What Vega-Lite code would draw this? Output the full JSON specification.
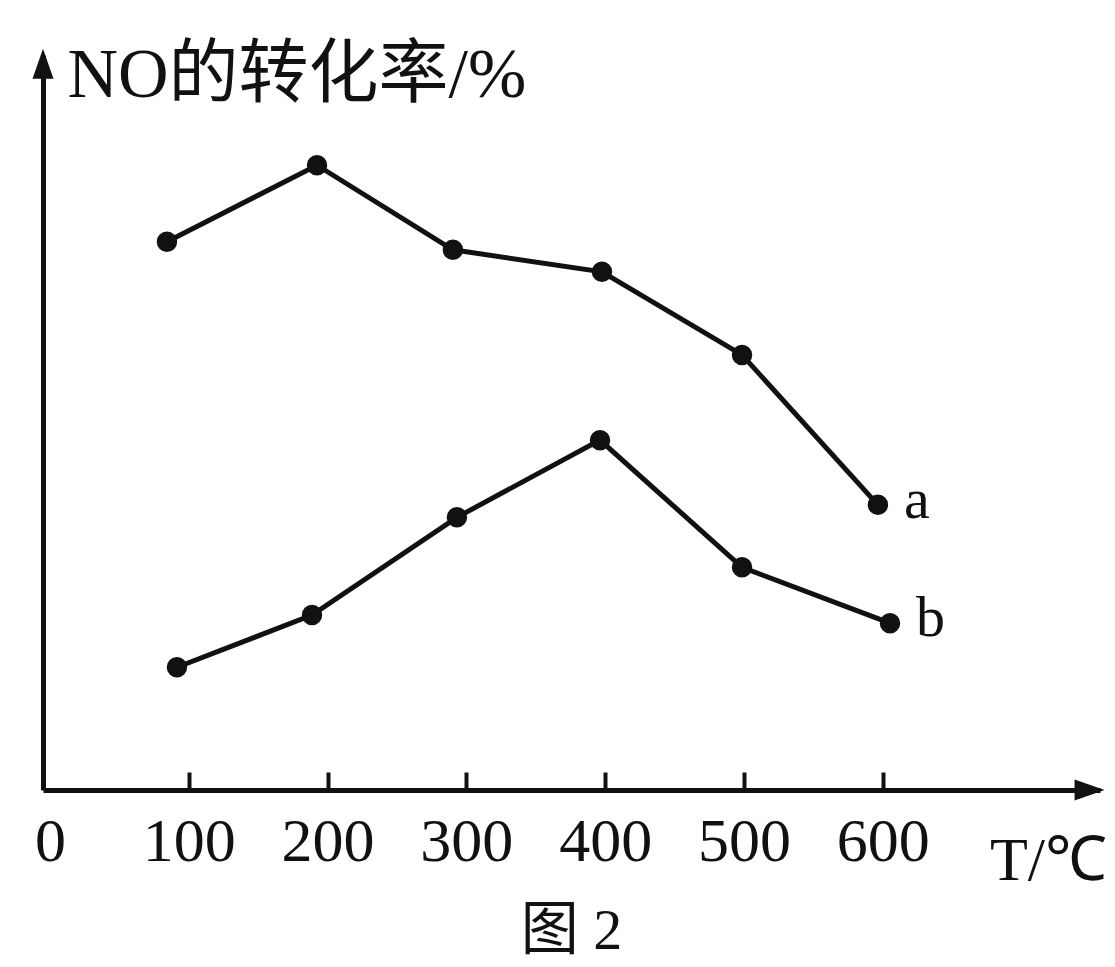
{
  "$schema": "https://vega.github.io/schema/vega-lite/v6.json",
  "width": 1057,
  "height": 735,
  "autosize": {"type": "none"},
  "padding": {"left": 43, "top": 55, "right": 15, "bottom": 177},
  "background": "white",
  "config": {
    "view": {"stroke": null},
    "font": "Liberation Serif, Noto Sans CJK SC, serif"
  },
  "title": {
    "text": "图 2",
    "orient": "bottom",
    "anchor": "middle",
    "frame": "group",
    "offset": 12,
    "fontSize": 58,
    "fontWeight": "normal",
    "font": "Liberation Serif, Noto Sans CJK SC, serif",
    "color": "#111"
  },
  "datasets": {
    "curves": [
      {"series": "a", "T": 84.3, "rate": 74.6},
      {"series": "a", "T": 192.4, "rate": 85.0},
      {"series": "a", "T": 290.3, "rate": 73.5},
      {"series": "a", "T": 397.7, "rate": 70.5},
      {"series": "a", "T": 498.6, "rate": 59.2},
      {"series": "a", "T": 596.5, "rate": 38.8},
      {"series": "b", "T": 91.5, "rate": 16.7},
      {"series": "b", "T": 188.8, "rate": 23.8},
      {"series": "b", "T": 293.2, "rate": 37.1},
      {"series": "b", "T": 396.3, "rate": 47.6},
      {"series": "b", "T": 498.6, "rate": 30.3},
      {"series": "b", "T": 605.2, "rate": 22.7}
    ],
    "arrows": [
      {"axis": "y", "T": -5, "rate": 98.8},
      {"axis": "x", "T": 749, "rate": 0}
    ]
  },
  "layer": [
    {
      "data": {"name": "curves"},
      "mark": {"type": "line", "color": "#111", "strokeWidth": 5},
      "encoding": {
        "x": {
          "field": "T",
          "type": "quantitative",
          "scale": {"domain": [-5, 756.5], "nice": false, "zero": false},
          "axis": {
            "values": [0, 100, 200, 300, 400, 500, 600],
            "domainWidth": 5,
            "domainColor": "#111",
            "tickSize": -18,
            "tickWidth": 4,
            "tickColor": "#111",
            "tickOpacity": {"condition": {"test": "datum.value == 0", "value": 0}, "value": 1},
            "grid": false,
            "labelFontSize": 62,
            "labelPadding": 39,
            "labelColor": "#111",
            "labelFont": "Liberation Serif",
            "labelFlush": false,
            "title": "T/℃",
            "titleX": 1005,
            "titleY": 70,
            "titleAlign": "center",
            "titleBaseline": "middle",
            "titleFontSize": 62,
            "titleFontWeight": "normal",
            "titleColor": "#111",
            "titleFont": "Liberation Serif"
          }
        },
        "y": {
          "field": "rate",
          "type": "quantitative",
          "scale": {"domain": [0, 100], "nice": false},
          "axis": {
            "domain": true,
            "domainWidth": 5,
            "domainColor": "#111",
            "ticks": false,
            "labels": false,
            "grid": false,
            "title": "NO的转化率/%",
            "titleAngle": 0,
            "titleAlign": "left",
            "titleBaseline": "middle",
            "titleX": 24,
            "titleY": 20,
            "titleFontSize": 70,
            "titleFontWeight": "normal",
            "titleColor": "#111",
            "titleFont": "Liberation Serif, Noto Sans CJK SC, serif"
          }
        },
        "detail": {"field": "series"}
      }
    },
    {
      "data": {"name": "curves"},
      "mark": {"type": "point", "filled": true, "size": 420, "color": "#111", "opacity": 1},
      "encoding": {
        "x": {"field": "T", "type": "quantitative"},
        "y": {"field": "rate", "type": "quantitative"}
      }
    },
    {
      "data": {"name": "curves"},
      "transform": [{"filter": "datum.T > 580"}],
      "mark": {"type": "text", "align": "left", "baseline": "middle", "dx": 26, "dy": -4, "fontSize": 58, "font": "Liberation Serif", "color": "#111"},
      "encoding": {
        "x": {"field": "T", "type": "quantitative"},
        "y": {"field": "rate", "type": "quantitative"},
        "text": {"field": "series"}
      }
    },
    {
      "data": {"name": "arrows"},
      "mark": {"type": "point", "filled": true, "size": 900, "color": "#111", "opacity": 1},
      "encoding": {
        "x": {"field": "T", "type": "quantitative"},
        "y": {"field": "rate", "type": "quantitative"},
        "shape": {
          "field": "axis",
          "type": "nominal",
          "scale": {"domain": ["y", "x"], "range": ["M0,-1L0.7,1L-0.7,1Z", "M1,0L-1,-0.7L-1,0.7Z"]},
          "legend": null
        }
      }
    }
  ]
}
